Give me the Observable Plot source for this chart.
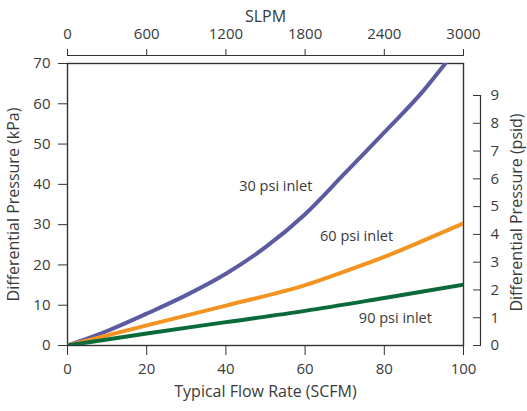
<!DOCTYPE html>
<html>
<head>
<meta charset="utf-8">
<script src="https://cdn.jsdelivr.net/npm/d3@7"></script>
<script src="https://cdn.jsdelivr.net/npm/@observablehq/plot@0.6"></script>
<style>
  html, body { margin: 0; padding: 0; background: #fff; }
  #chart svg { display: block; }
</style>
</head>
<body>
<div id="chart"></div>
<script>
// Flow rate (SCFM) and differential pressure (kPa)
const flow30 = [0, 10, 20, 30, 40, 50, 60, 70, 80, 90, 95.4];
const kpa30  = [0, 3.6, 7.9, 12.5, 17.8, 24.4, 32.6, 42.7, 52.9, 63.4, 70.0];
const flow60 = [0, 20, 40, 60, 70, 80, 90, 100];
const kpa60  = [0, 5.0, 9.9, 15.0, 18.4, 22.0, 26.1, 30.3];
const flow90 = [0, 20, 40, 60, 80, 100];
const kpa90  = [0, 3.0, 5.8, 8.6, 11.8, 15.1];

const seriesNames = ["30 psi inlet", "60 psi inlet", "90 psi inlet"];
const seriesColors = ["#5c5b9f", "#f39320", "#0b6a3a"];
const labelFlow = [52.6, 73.0, 82.8];
const labelKpa = [39.4, 27.0, 6.7];

const scfmTicks = [0, 20, 40, 60, 80, 100];
const slpmTicks = [0, 600, 1200, 1800, 2400, 3000];
const kpaTicks = [0, 10, 20, 30, 40, 50, 60, 70];
const psiTicks = [0, 1, 2, 3, 4, 5, 6, 7, 8, 9];
const KPA_PER_PSI = 6.895;

const rows = [];
[[flow30, kpa30], [flow60, kpa60], [flow90, kpa90]].forEach(([xs, ys], i) => {
  xs.forEach((x, j) => rows.push({series: seriesNames[i], flow: x, kpa: ys[j]}));
});
const labels = seriesNames.map((s, i) => ({series: s, flow: labelFlow[i], kpa: labelKpa[i]}));

const FONT = "'Open Sans', 'Noto Sans', sans-serif";
const TXT = "#3a3a3a";

const chart = Plot.plot({
  width: 527,
  height: 411,
  marginLeft: 67,
  marginRight: 64,
  marginTop: 63,
  marginBottom: 66,
  style: {fontFamily: FONT, fontSize: "15px", color: TXT, background: "#fff"},
  x: {domain: [0, 100]},
  y: {domain: [0, 70]},
  color: {domain: seriesNames, range: seriesColors},
  marks: [
    Plot.frame({stroke: "#333", strokeWidth: 1.4}),
    // bottom axis
    Plot.axisX({anchor: "bottom", ticks: scfmTicks, tickSize: 10, tickPadding: 8, label: null, fontSize: 15, stroke: "#333"}),
    // top axis (SLPM)
    Plot.ruleY([70], {dy: -8, stroke: "#333", strokeWidth: 1.2}),
    Plot.axisX({anchor: "top", ticks: scfmTicks, tickFormat: (d, i) => String(slpmTicks[i]), tickSize: 7, tickPadding: 10, dy: -8, label: null, fontSize: 15, stroke: "#333"}),
    // left axis
    Plot.axisY({anchor: "left", ticks: kpaTicks, tickSize: 9, tickPadding: 8, label: null, fontSize: 15, stroke: "#333"}),
    // right axis (psid)
    Plot.ruleX([100], {y1: 0, y2: 9 * KPA_PER_PSI, dx: 17, stroke: "#333", strokeWidth: 1.2}),
    Plot.axisY({anchor: "right", ticks: psiTicks.map(p => p * KPA_PER_PSI), tickFormat: (d, i) => String(psiTicks[i]), tickSize: 8, tickPadding: 10, dx: 9, label: null, fontSize: 15, stroke: "#333"}),
    // titles
    Plot.text(["SLPM"], {frameAnchor: "top", dy: -53, fontSize: 16, fill: TXT}),
    Plot.text(["Typical Flow Rate (SCFM)"], {frameAnchor: "bottom", dy: 51, fontSize: 16, fill: TXT}),
    Plot.text(["Differential Pressure (kPa)"], {frameAnchor: "left", textAnchor: "middle", dx: -54, rotate: -90, fontSize: 16, fill: TXT}),
    Plot.text(["Differential Pressure (psid)"], {frameAnchor: "right", textAnchor: "middle", dx: 53, dy: 8, rotate: -90, fontSize: 16, fill: TXT}),
    // curves
    Plot.line(rows, {x: "flow", y: "kpa", z: "series", stroke: "series", strokeWidth: 4, curve: "monotone-x", clip: true}),
    Plot.text(labels, {x: "flow", y: "kpa", text: "series", fontSize: 14.5, fill: TXT})
  ]
});
document.getElementById("chart").appendChild(chart);
</script>
</body>
</html>
